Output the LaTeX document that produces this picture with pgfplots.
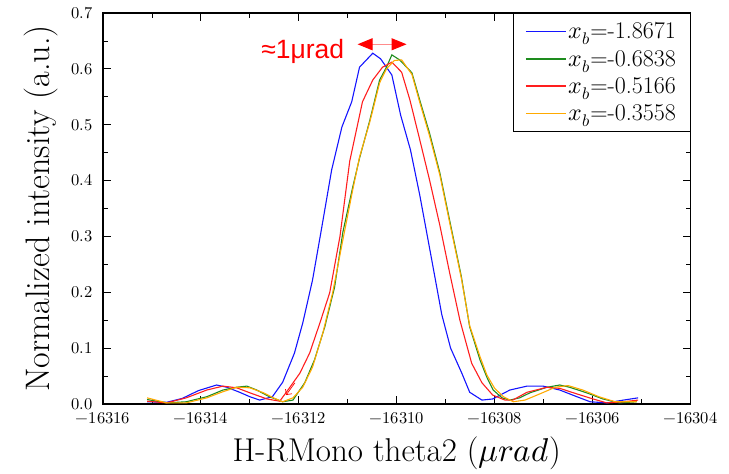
\documentclass[border=0pt]{standalone}
\usepackage{fontspec}
\usepackage{unicode-math}
\setmathfont{Latin Modern Math}
\usepackage{pgfplots}
\pgfplotsset{compat=1.18}
\usetikzlibrary{arrows.meta}
\newfontfamily\annfont{Liberation Sans}
\definecolor{cblue}{RGB}{20,20,255}
\definecolor{cgreen}{RGB}{30,140,30}
\definecolor{cred}{RGB}{255,30,30}
\definecolor{corange}{RGB}{255,170,0}
\begin{document}
\begin{tikzpicture}
\begin{axis}[
  scale only axis, width=587.5pt, height=391pt,
  xmin=-16316, xmax=-16304, ymin=0, ymax=0.7,
  scaled x ticks=false,
  xtick={-16316,-16314,...,-16304},
  minor xtick={-16315,-16313,...,-16305},
  ytick={0,0.1,...,0.7},
  minor ytick={0.05,0.15,...,0.65},
  yticklabel style={/pgf/number format/fixed, /pgf/number format/fixed zerofill,
    /pgf/number format/precision=1, xshift=-7pt},
  xticklabel style={/pgf/number format/fixed, /pgf/number format/precision=0,
    /pgf/number format/set thousands separator={}, yshift=-5pt},
  tick label style={font=\fontsize{16.5}{19}\selectfont},
  major tick length=8pt, minor tick length=5pt,
  axis line style={line width=1.1pt},
  every tick/.style={line width=0.8pt, black},
  xlabel={H-RMono theta2 ($\mu rad$)},
  ylabel={Normalized intensity (a.u.)},
  every axis x label/.style={at={(axis description cs:0.5,0)}, anchor=base, yshift=-58pt,
    font=\fontsize{33}{38}\selectfont},
  every axis y label/.style={at={(axis description cs:-0.1055,0.5)}, rotate=90, anchor=center,
    font=\fontsize{34}{40}\selectfont},
  legend style={at={(1,1)}, anchor=north east, draw=black, line width=1pt,
    font=\fontsize{24}{28}\selectfont, row sep=6pt, inner xsep=12pt, inner ysep=7pt,
    /tikz/every even column/.append style={column sep=3pt}},
  legend cell align=left,
  legend image code/.code={\draw[#1, line width=1.6pt] (0pt,0pt) -- (40pt,0pt);},
  every axis plot/.append style={line width=1.1pt},
]
\addplot[cblue] coordinates {
(-16315.10,0.004) (-16314.70,0.003) (-16314.38,0.010) (-16314.05,0.024)
(-16313.68,0.034) (-16313.47,0.030) (-16313.21,0.021) (-16313.00,0.013)
(-16312.80,0.007) (-16312.54,0.013) (-16312.33,0.039) (-16312.09,0.091)
(-16311.92,0.145) (-16311.72,0.222) (-16311.53,0.317) (-16311.33,0.419)
(-16311.12,0.496) (-16310.92,0.541) (-16310.76,0.603) (-16310.49,0.628)
(-16310.33,0.618) (-16310.10,0.589) (-16309.92,0.517) (-16309.72,0.455)
(-16309.53,0.374) (-16309.30,0.265) (-16309.08,0.160) (-16308.90,0.100)
(-16308.67,0.055) (-16308.51,0.021) (-16308.26,0.007) (-16308.04,0.009)
(-16307.69,0.025) (-16307.34,0.032) (-16307.01,0.032) (-16306.67,0.025)
(-16306.32,0.013) (-16306.05,0.004) (-16305.71,0.002) (-16305.37,0.007)
(-16305.07,0.011)
};
\addlegendentry{$x_b$=-1.8671}
\addplot[cgreen] coordinates {
(-16315.10,0.008) (-16314.70,0.002) (-16314.30,0.004) (-16313.88,0.013)
(-16313.55,0.025) (-16313.27,0.030) (-16313.06,0.032) (-16312.86,0.025)
(-16312.60,0.013) (-16312.33,0.004) (-16312.12,0.007) (-16311.88,0.038)
(-16311.68,0.079) (-16311.47,0.138) (-16311.27,0.209) (-16311.10,0.308)
(-16310.90,0.388) (-16310.76,0.440) (-16310.55,0.508) (-16310.35,0.580)
(-16310.21,0.603) (-16310.10,0.625) (-16309.94,0.616) (-16309.69,0.593)
(-16309.53,0.544) (-16309.33,0.485) (-16309.12,0.414) (-16308.92,0.329)
(-16308.68,0.228) (-16308.51,0.138) (-16308.30,0.079) (-16308.16,0.048)
(-16308.03,0.025) (-16307.85,0.011) (-16307.69,0.007) (-16307.49,0.011)
(-16307.28,0.020) (-16306.93,0.030) (-16306.67,0.034) (-16306.47,0.030)
(-16306.12,0.020) (-16305.79,0.009) (-16305.45,0.002) (-16305.10,0.004)
};
\addlegendentry{$x_b$=-0.6838}
\addplot[cred] coordinates {
(-16315.10,0.005) (-16314.70,0.002) (-16314.30,0.011) (-16313.88,0.025)
(-16313.55,0.032) (-16313.27,0.029) (-16313.00,0.020) (-16312.65,0.009)
(-16312.39,0.005) (-16312.19,0.029) (-16311.98,0.055) (-16311.78,0.091)
(-16311.57,0.145) (-16311.37,0.199) (-16311.16,0.300) (-16310.96,0.435)
(-16310.70,0.541) (-16310.49,0.580) (-16310.29,0.603) (-16310.10,0.612)
(-16309.90,0.594) (-16309.73,0.544) (-16309.53,0.473) (-16309.33,0.401)
(-16309.12,0.320) (-16308.92,0.235) (-16308.71,0.150) (-16308.47,0.073)
(-16308.26,0.038) (-16308.04,0.016) (-16307.79,0.007) (-16307.63,0.007)
(-16307.34,0.021) (-16306.93,0.030) (-16306.67,0.028) (-16306.32,0.018)
(-16305.99,0.009) (-16305.71,0.002) (-16305.37,0.004) (-16305.07,0.007)
};
\addlegendentry{$x_b$=-0.5166}
\addplot[corange] coordinates {
(-16315.10,0.011) (-16314.70,0.002) (-16314.30,0.002) (-16313.88,0.011)
(-16313.55,0.022) (-16313.27,0.030) (-16313.00,0.029) (-16312.72,0.020)
(-16312.52,0.011) (-16312.33,0.004) (-16312.12,0.011) (-16311.92,0.030)
(-16311.72,0.066) (-16311.51,0.127) (-16311.31,0.199) (-16311.10,0.294)
(-16310.90,0.383) (-16310.76,0.442) (-16310.55,0.505) (-16310.35,0.575)
(-16310.21,0.600) (-16310.05,0.615) (-16309.90,0.616) (-16309.69,0.590)
(-16309.53,0.540) (-16309.33,0.480) (-16309.12,0.410) (-16308.92,0.325)
(-16308.68,0.225) (-16308.51,0.140) (-16308.30,0.085) (-16308.16,0.052)
(-16308.00,0.028) (-16307.82,0.013) (-16307.62,0.004) (-16307.38,0.007)
(-16307.08,0.018) (-16306.76,0.030) (-16306.50,0.033) (-16306.20,0.025)
(-16305.87,0.013) (-16305.54,0.004) (-16305.10,0.004)
};
\addlegendentry{$x_b$=-0.3558}
\draw[red!45, line width=1pt, {Triangle[length=15pt,width=12pt,color=red]}-{Triangle[length=15pt,width=12pt,color=red]}]
  (axis cs:-16310.80,0.644) -- (axis cs:-16309.80,0.644);
\node[anchor=base east, text=red, font=\annfont\fontsize{26.5}{30}\selectfont, inner sep=0pt]
  at (axis cs:-16311.07,0.619) {≈1μrad};
\draw[red, line width=0.7pt, -{Straight Barb[length=4pt]}]
  (axis cs:-16312.08,0.038) -- (axis cs:-16312.26,0.016);
\end{axis}
\path (current axis.south west) ++(-103pt,-68pt) coordinate (bbSW);
\path (current axis.north east) ++(38.5pt,13pt) coordinate (bbNE);
\end{tikzpicture}
\end{document}
